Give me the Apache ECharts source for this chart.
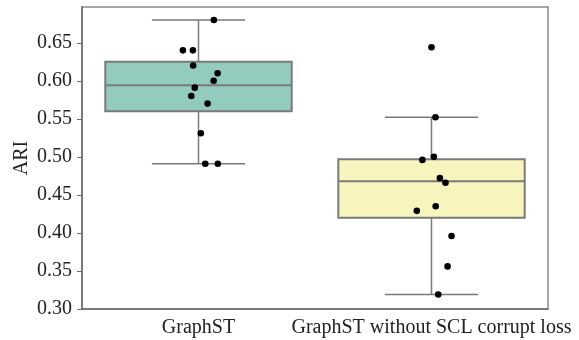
<!DOCTYPE html>
<html><head><meta charset="utf-8">
<script src="https://cdn.jsdelivr.net/npm/echarts@6/dist/echarts.min.js"></script>
<style>html,body{margin:0;padding:0;background:#fff}#c{width:579px;height:340px}</style>
</head><body><div id="c"></div>
<script>
var categories = ['GraphST', 'GraphST without SCL corrupt loss'];
// box stats: [lowerWhisker, q1, median, q3, upperWhisker]
var boxStats = [
  [0.491, 0.560, 0.594, 0.625, 0.680],
  [0.319, 0.420, 0.468, 0.497, 0.552]
];
var boxColors = ['#93cbbf', '#f7f5bd'];
// observed points per category (values), with jitter in category-width units
var pointsA = [0.680, 0.640, 0.640, 0.620, 0.610, 0.600, 0.591, 0.580, 0.570, 0.531, 0.491, 0.491];
var jitterA = [0.066, -0.067, -0.024, -0.023, 0.082, 0.065, -0.016, -0.031, 0.039, 0.010, 0.029, 0.083];
var pointsB = [0.644, 0.552, 0.496, 0.500, 0.472, 0.466, 0.435, 0.429, 0.396, 0.356, 0.319];
var jitterB = [0.000, 0.017, -0.039, 0.010, 0.036, 0.060, 0.018, -0.063, 0.086, 0.069, 0.029];
var yTicks = [0.30, 0.35, 0.40, 0.45, 0.50, 0.55, 0.60, 0.65];

var lineColor = '#7a7a7a';
var boxData = boxStats.map(function (s, i) { return [i].concat(s); });
var pointData = [];
pointsA.forEach(function (v, k) { pointData.push([0, v, jitterA[k]]); });
pointsB.forEach(function (v, k) { pointData.push([1, v, jitterB[k]]); });

var chart = echarts.init(document.getElementById('c'), null, {renderer: 'canvas'});
chart.setOption({
  animation: false,
  grid: {left: 82, right: 31, top: 7, bottom: 31, containLabel: false, outerBoundsMode: 'none',
    show: true, borderColor: '#8a8a8a', borderWidth: 1.5, backgroundColor: 'transparent'},
  xAxis: {
    type: 'category', data: categories, boundaryGap: true,
    axisLine: {lineStyle: {color: '#6a6a6a', width: 1.5}},
    axisTick: {alignWithLabel: true, length: 5, lineStyle: {color: '#6a6a6a'}},
    axisLabel: {color: '#222', fontFamily: 'Liberation Serif', fontSize: 20, margin: 9, interval: 0},
    splitLine: {show: false}
  },
  yAxis: {
    type: 'value', min: 0.30, max: 0.697, interval: 0.05,
    name: 'ARI', nameLocation: 'middle', nameGap: 50, nameRotate: 90, nameMoveOverlap: false,
    nameTextStyle: {color: '#222', fontFamily: 'Liberation Serif', fontSize: 20},
    axisLine: {show: true, lineStyle: {color: '#6a6a6a', width: 1.5}},
    axisTick: {show: true, length: 5, lineStyle: {color: '#6a6a6a'}},
    axisLabel: {color: '#222', fontFamily: 'Liberation Serif', fontSize: 20, margin: 10, showMaxLabel: false,
      formatter: function (v) { return yTicks.some(function (t) { return Math.abs(t - v) < 1e-6; }) ? v.toFixed(2) : ''; }},
    splitLine: {show: false}
  },
  series: [
    {
      type: 'custom', data: boxData, z: 2,
      renderItem: function (params, api) {
        var c = api.value(0);
        var bw = api.size([1, 0])[0];
        var half = bw * 0.40, capHalf = bw * 0.20;
        var pLo = api.coord([c, api.value(1)]);
        var pQ1 = api.coord([c, api.value(2)]);
        var pMed = api.coord([c, api.value(3)]);
        var pQ3 = api.coord([c, api.value(4)]);
        var pHi = api.coord([c, api.value(5)]);
        var x = pLo[0];
        var ls = {stroke: lineColor, lineWidth: 1.5};
        return {type: 'group', children: [
          {type: 'line', shape: {x1: x, y1: pQ3[1], x2: x, y2: pHi[1]}, style: ls},
          {type: 'line', shape: {x1: x, y1: pQ1[1], x2: x, y2: pLo[1]}, style: ls},
          {type: 'line', shape: {x1: x - capHalf, y1: pHi[1], x2: x + capHalf, y2: pHi[1]}, style: ls},
          {type: 'line', shape: {x1: x - capHalf, y1: pLo[1], x2: x + capHalf, y2: pLo[1]}, style: ls},
          {type: 'rect', shape: {x: x - half, y: pQ3[1], width: 2 * half, height: pQ1[1] - pQ3[1]},
            style: {fill: boxColors[c], stroke: lineColor, lineWidth: 2}},
          {type: 'line', shape: {x1: x - half, y1: pMed[1], x2: x + half, y2: pMed[1]}, style: {stroke: lineColor, lineWidth: 2}}
        ]};
      }
    },
    {
      type: 'custom', data: pointData, z: 3,
      renderItem: function (params, api) {
        var bw = api.size([1, 0])[0];
        var p = api.coord([api.value(0), api.value(1)]);
        return {type: 'circle', shape: {cx: p[0] + api.value(2) * bw, cy: p[1], r: 3.3}, style: {fill: '#000'}};
      }
    }
  ]
});
</script>
</body></html>
